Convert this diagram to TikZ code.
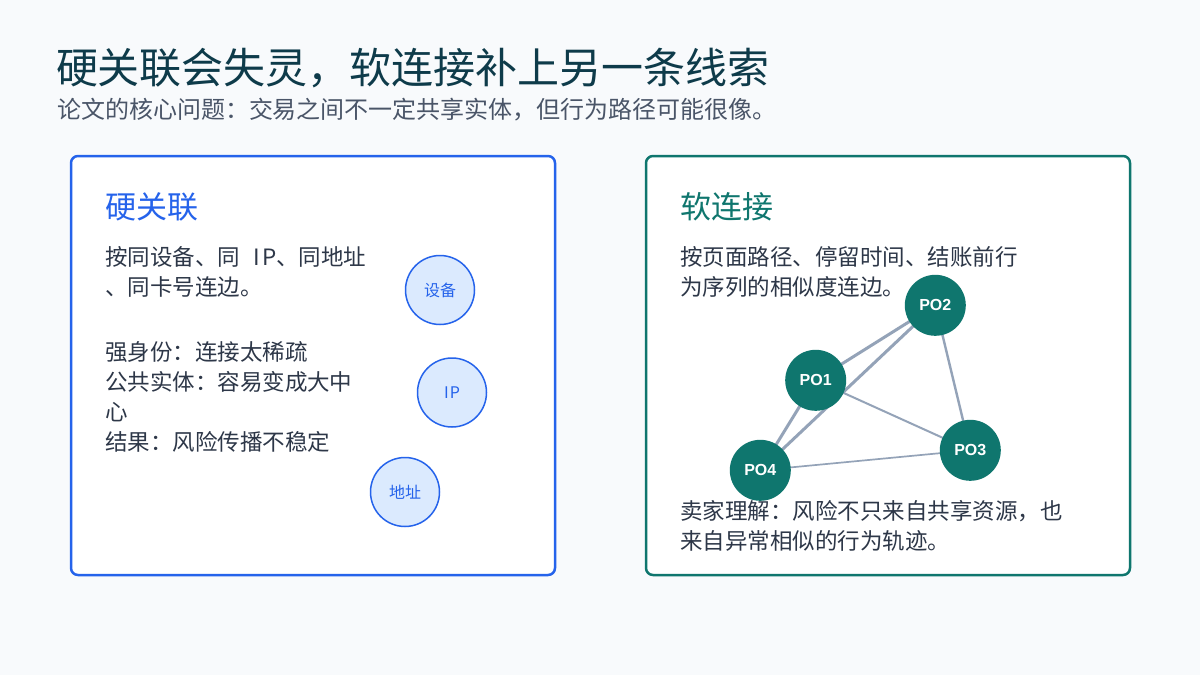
\documentclass[tikz,border=0pt]{standalone}
\usepackage{fontspec}
\setmainfont{Noto Sans CJK SC}
\newfontfamily\cjk{Noto Sans CJK SC}
\newfontfamily\latinb{Liberation Sans}
\pgfdeclarelayer{bglayer}
\pgfdeclarelayer{edgelayer}
\pgfsetlayers{bglayer,edgelayer,main}
\definecolor{bgc}{HTML}{F8FAFC}
\definecolor{titlec}{HTML}{0E3B4A}
\definecolor{subc}{HTML}{4A5568}
\definecolor{bodyc}{HTML}{2D3748}
\definecolor{bluec}{HTML}{2563EB}
\definecolor{bluefill}{HTML}{DBEAFE}
\definecolor{tealc}{HTML}{0F766E}
\definecolor{edgec}{HTML}{94A3B8}
\tikzset{
  txt/.style={anchor=base west, inner sep=0pt, outer sep=0pt},
  titletxt/.style={txt, text=titlec, font=\cjk\fontsize{42}{50}\selectfont},
  subtxt/.style={txt, text=subc, font=\cjk\fontsize{24}{30}\selectfont},
  headblue/.style={txt, text=bluec, font=\cjk\fontsize{31}{36}\selectfont},
  headteal/.style={txt, text=tealc, font=\cjk\fontsize{31}{36}\selectfont},
  bodytxt/.style={txt, text=bodyc, font=\cjk\fontsize{22.5}{30}\selectfont},
  panelblue/.style={draw=bluec, line width=2.5pt, fill=white, rounded corners=7pt},
  panelteal/.style={draw=tealc, line width=2.5pt, fill=white, rounded corners=7pt},
  entity/.style={circle, draw=bluec, line width=1.5pt, fill=bluefill, minimum size=69pt, inner sep=0pt, text=bluec, font=\cjk\fontsize{16}{18}\selectfont},
  po/.style={circle, fill=tealc, minimum size=61pt, inner sep=0pt, outer sep=0pt, text=white, font=\latinb\bfseries\fontsize{16}{18}\selectfont},
  simedge/.style={draw=edgec, shorten <=-1pt, shorten >=-1pt},
}
\begin{document}
\begin{tikzpicture}[x=1pt, y=-1pt]
\useasboundingbox (0,0) rectangle (1200,675);
\begin{pgfonlayer}{bglayer}
\fill[bgc] (0,0) rectangle (1200,675);
\draw[panelblue] (71,156) rectangle (555,575);
\draw[panelteal] (646,156) rectangle (1130,575);
\end{pgfonlayer}

% title
\node[titletxt] (title) at (56,83) {硬关联会失灵，软连接补上另一条线索};
\node[subtxt] (subtitle) at (57,118.5) {论文的核心问题：交易之间不一定共享实体，但行为路径可能很像。};

% left panel
\node[headblue] (lhead) at (105,218.5) {硬关联};
\node[bodytxt] (l1) at (105,265) {按同设备、同\hspace{14pt}I\hspace{1.5pt}P、同地址};
\node[bodytxt] (l2) at (105,295.3) {、同卡号连边。};
\node[bodytxt] (l3) at (105,360) {强身份：连接太稀疏};
\node[bodytxt] (l4) at (105,390.3) {公共实体：容易变成大中};
\node[bodytxt] (l5) at (105,420.6) {心};
\node[bodytxt] (l6) at (105,450.9) {结果：风险传播不稳定};

\node[entity] (dev) at (440,290) {设备};
\node[entity] (ip) at (452,392.5) {I\hspace{1pt}P};
\node[entity] (addr) at (405,492) {地址};

% right panel
\node[headteal] (rhead) at (680,218.5) {软连接};
\node[bodytxt] (r1) at (680,265) {按页面路径、停留时间、结账前行};
\node[bodytxt] (r2) at (680,295.3) {为序列的相似度连边。};
\node[bodytxt] (r3) at (680,519) {卖家理解：风险不只来自共享资源，也};
\node[bodytxt] (r4) at (680,549.3) {来自异常相似的行为轨迹。};

\node[po] (po1) at (815.7,380.3) {PO1};
\node[po] (po2) at (935.3,305.3) {PO2};
\node[po] (po3) at (970.3,450.3) {PO3};
\node[po] (po4) at (760.3,470.3) {PO4};

\begin{pgfonlayer}{edgelayer}
\draw[simedge, line width=3pt] (po1.center) -- (po2.center);
\draw[simedge, line width=3pt] (po4.center) -- (po2.center);
\draw[simedge, line width=3pt] (po1.center) -- (po4.center);
\draw[simedge, line width=2.4pt] (po2.center) -- (po3.center);
\draw[simedge, line width=2pt] (po1.center) -- (po3.center);
\draw[simedge, line width=1.7pt] (po3.center) -- (po4.center);
\end{pgfonlayer}
\end{tikzpicture}
\end{document}
